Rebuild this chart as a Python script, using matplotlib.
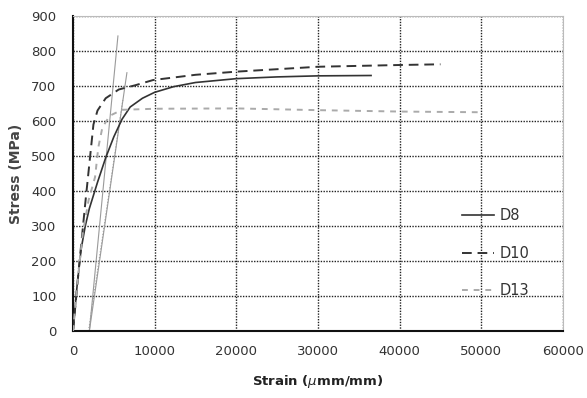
import matplotlib
matplotlib.use("Agg")
import matplotlib.pyplot as plt

plt.rcParams["font.family"] = ["DejaVu Sans"]

# D8 stress-strain curve
d8_strain = [0, 500, 1000, 1500, 2000, 3000, 4000, 5000, 6000, 7000, 8500, 10000,
             12300, 15000, 20000, 25000, 30000, 36500]
d8_stress = [0, 130, 235, 300, 350, 425, 495, 555, 605, 640, 665, 682,
             698, 710, 721, 726, 729, 730]

# D10 stress-strain curve
d10_strain = [0, 800, 1500, 2100, 2500, 3000, 4000, 5600, 7600, 9800, 15000,
              20000, 30000, 40000, 45000]
d10_stress = [0, 200, 365, 500, 590, 630, 665, 690, 702, 717, 732,
              741, 755, 760, 762]

# D13 stress-strain curve
d13_strain = [0, 600, 1200, 1900, 2700, 3100, 3600, 4500, 6000, 10000, 20000,
              30000, 40000, 50000]
d13_stress = [0, 150, 280, 373, 440, 525, 582, 615, 632, 635, 636,
              631, 627, 625]

# 0.2% offset lines (start strain, end strain, end stress)
off_strain = [[2000, 5500], [2000, 6600], [1900, 6100]]
off_stress = [[0, 843], [0, 738], [0, 660]]
off_styles = ["-", "-", ":"]

x_ticks = [0, 10000, 20000, 30000, 40000, 50000, 60000]
y_ticks = [0, 100, 200, 300, 400, 500, 600, 700, 800, 900]

fig = plt.figure(figsize=(5.87, 3.98), dpi=100)
ax = fig.add_axes([0.1244, 0.1683, 0.8346, 0.7915])

txt = "#333333"

for xs, ys, ls in zip(off_strain, off_stress, off_styles):
    ax.plot(xs, ys, color="#9a9a9a", lw=0.8, ls=ls, zorder=2)

ax.plot(d8_strain, d8_stress, color="#333333", lw=1.2, label="D8", zorder=4)
ax.plot(d10_strain, d10_stress, color="#333333", lw=1.4, dashes=(5, 3),
        label="D10", zorder=4)
ax.plot(d13_strain, d13_stress, color="#aaaaaa", lw=1.4, dashes=(3, 3),
        label="D13", zorder=4)

ax.set_xlim(0, 60000)
ax.set_ylim(0, 900)
ax.set_xticks(x_ticks)
ax.set_yticks(y_ticks)
ax.set_xticklabels([str(v) for v in x_ticks])
ax.set_yticklabels([str(v) for v in y_ticks])
ax.tick_params(length=0, labelsize=9.5, labelcolor=txt)
ax.tick_params(axis="y", pad=12)
ax.tick_params(axis="x", pad=10)

ax.grid(True, color="#222222", linestyle=(0, (1, 1)), lw=1.0, zorder=1)
ax.set_axisbelow(True)

ax.spines["left"].set_linewidth(1.5)
ax.spines["bottom"].set_linewidth(1.5)
ax.spines["left"].set_color("#111111")
ax.spines["bottom"].set_color("#111111")
ax.spines["top"].set_color("#bbbbbb")
ax.spines["right"].set_color("#bbbbbb")
ax.spines["top"].set_linewidth(0.8)
ax.spines["right"].set_linewidth(0.8)

ax.set_xlabel("Strain ($\\mu$mm/mm)", fontsize=9.5, color="#222222",
              fontweight="bold", labelpad=11)
ax.set_ylabel("Stress (MPa)", fontsize=10, color="#444444",
              fontweight="bold", labelpad=6)

leg = ax.legend(loc="upper left", bbox_to_anchor=(0.794, 0.39), frameon=False,
                fontsize=10.5, handlelength=2.2, handletextpad=0.35,
                labelspacing=1.55, borderpad=0, borderaxespad=0)
for t in leg.get_texts():
    t.set_color(txt)

fig.savefig("out.png", dpi=100)
